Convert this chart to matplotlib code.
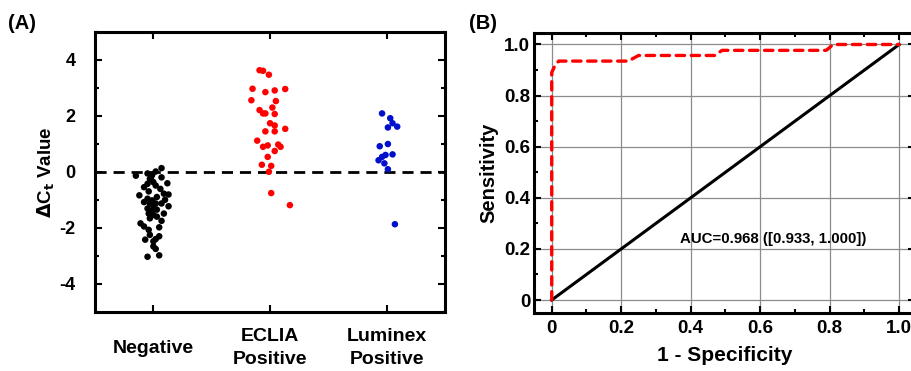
import matplotlib
matplotlib.use("Agg")
import matplotlib.pyplot as plt
from matplotlib.ticker import MultipleLocator

plt.rcParams['font.family'] = ['Liberation Sans', 'DejaVu Sans']
plt.rcParams['font.weight'] = 'bold'
plt.rcParams['axes.unicode_minus'] = False

# left panel: delta Ct values, with the horizontal jitter
groups = ["Negative", "ECLIA\nPositive", "Luminex\nPositive"]
colors = ["black", "#ff0000", "#0010cc"]

neg_y = [0.13, -0.14, -0.06, -0.11, 0.01, -0.26, -0.37, -0.2, -0.41, -0.43,
         -0.49, -0.61, -0.81, -0.78, -0.84, -0.96, -1.02, -0.9, -1.08, -1.13,
         -1.13, -1.13, -1.23, -1.31, -1.37, -1.35, -1.49, -1.54, -1.49, -1.66,
         -1.75, -1.84, -1.95, -2.07, -1.98, -2.25, -2.3, -2.4, -2.42, -2.48,
         -2.75, -3.03, -2.98, -2.66, -0.2, -0.7, -1.2, -1.0, -1.6, -0.55]
neg_dx = [0.07, -0.15, -0.05, -0.01, 0.02, -0.03, 0.0, 0.07, 0.12, -0.05,
          0.02, 0.06, 0.13, 0.09, -0.12, -0.05, -0.01, 0.03, -0.08, -0.03,
          0.02, 0.07, 0.13, -0.05, -0.01, 0.03, -0.04, 0.0, 0.09, -0.03,
          0.07, -0.11, -0.08, -0.04, 0.05, -0.03, 0.05, 0.02, -0.07, 0.0,
          0.02, -0.05, 0.05, 0.0, -0.02, -0.04, 0.0, 0.1, 0.03, -0.08]

eclia_y = [3.62, 3.6, 3.46, 2.96, 2.84, 2.9, 2.95, 2.55, 2.52, 2.29,
           2.2, 2.08, 2.08, 2.06, 1.73, 1.65, 1.53, 1.44, 1.44, 1.11,
           0.89, 0.94, 0.97, 0.89, 0.74, 0.53, 0.25, 0.21, 0.0, -0.76, -1.19]
eclia_dx = [-0.09, -0.06, -0.01, -0.15, -0.04, 0.04, 0.13, -0.16, 0.05, 0.02,
            -0.09, -0.06, -0.04, 0.04, 0.0, 0.04, 0.13, -0.04, 0.04, -0.11,
            -0.06, -0.02, 0.07, 0.09, 0.04, -0.02, -0.07, 0.01, -0.01, 0.01, 0.17]

lum_y = [2.08, 1.91, 1.73, 1.58, 1.61, 0.91, 0.99, 0.62, 0.6, 0.53,
         0.41, 0.3, 0.09, -1.87]
lum_dx = [-0.04, 0.03, 0.05, 0.01, 0.09, -0.06, 0.01, 0.05, -0.01, -0.04,
          -0.07, -0.02, 0.01, 0.07]

# right panel: ROC curve
fpr = [0, 0, 0.01, 0.02, 0.22, 0.25, 0.47, 0.49, 0.79, 0.81, 1.0]
tpr = [0, 0.89, 0.92, 0.935, 0.935, 0.957, 0.957, 0.977, 0.977, 1.0, 1.0]
auc_text = "AUC=0.968 ([0.933, 1.000])"

fig = plt.figure(figsize=(9.12, 3.71), dpi=100)

# ---- panel A
ax1 = fig.add_axes([0.1042, 0.159, 0.3838, 0.756])
for i, (ys, dxs) in enumerate([(neg_y, neg_dx), (eclia_y, eclia_dx), (lum_y, lum_dx)]):
    xs = [i + d for d in dxs]
    ax1.scatter(xs, ys, s=22, color=colors[i], edgecolors='none', zorder=3)
ax1.axhline(0, color='black', lw=2, ls=(0, (4, 2.5)), zorder=2)
ax1.set_xlim(-0.5, 2.5)
ax1.set_ylim(-5, 5)
ax1.set_yticks([-4, -2, 0, 2, 4])
ax1.yaxis.set_minor_locator(MultipleLocator(1))
ax1.tick_params(axis='both', which='both', direction='in', top=True, right=True,
                width=1.5)
ax1.tick_params(axis='both', which='major', length=5)
ax1.tick_params(axis='both', which='minor', length=3)
ax1.tick_params(axis='y', labelsize=13, pad=14)
ax1.tick_params(axis='x', labelsize=14, pad=26)
ax1.set_xticks([0, 1, 2])
ax1.set_xticklabels(groups, fontweight='bold')
for lbl in ax1.get_xticklabels():
    lbl.set_va('center')
    lbl.set_linespacing(1.5)
ax1.set_ylabel(r'$\Delta$C$_\mathbf{t}$ Value', fontsize=13.5, fontweight='bold', labelpad=2)
for sp in ax1.spines.values():
    sp.set_linewidth(2.2)
fig.text(0.009, 0.938, "(A)", fontsize=14.5, fontweight='bold', va='center')

# ---- panel B
ax2 = fig.add_axes([0.5859, 0.1569, 0.4172, 0.7542])
ax2.plot([0, 1], [0, 1], color='black', lw=2.2, zorder=3)
ax2.plot(fpr, tpr, color='#ff0000', lw=2.4, ls=(0, (2.5, 2)),
         dash_capstyle='round', zorder=4)
ax2.set_xlim(-0.05, 1.045)
ax2.set_ylim(-0.05, 1.045)
ticks = [0, 0.2, 0.4, 0.6, 0.8, 1.0]
tick_labels = ["0", "0.2", "0.4", "0.6", "0.8", "1.0"]
ax2.set_xticks(ticks)
ax2.set_xticklabels(tick_labels)
ax2.set_yticks(ticks)
ax2.set_yticklabels(tick_labels)
ax2.xaxis.set_minor_locator(MultipleLocator(0.1))
ax2.yaxis.set_minor_locator(MultipleLocator(0.1))
ax2.grid(True, which='major', color='#8c8c8c', lw=0.9, zorder=1)
ax2.tick_params(axis='both', which='both', direction='in', top=True, right=True,
                width=1.5, labelsize=13.5)
ax2.tick_params(axis='both', which='major', length=5)
ax2.tick_params(axis='both', which='minor', length=3)
ax2.tick_params(axis='x', pad=5)
ax2.tick_params(axis='y', pad=3)
ax2.set_xlabel("1 - Specificity", fontsize=15, fontweight='bold', labelpad=7)
ax2.set_ylabel("Sensitivity", fontsize=14.5, fontweight='bold', labelpad=4)
ax2.text(0.37, 0.237, auc_text, fontsize=10.8, fontweight='bold', va='center', zorder=5)
for sp in ax2.spines.values():
    sp.set_linewidth(2.2)
fig.text(0.514, 0.938, "(B)", fontsize=14.5, fontweight='bold', va='center')

fig.savefig("out.png", dpi=100)
